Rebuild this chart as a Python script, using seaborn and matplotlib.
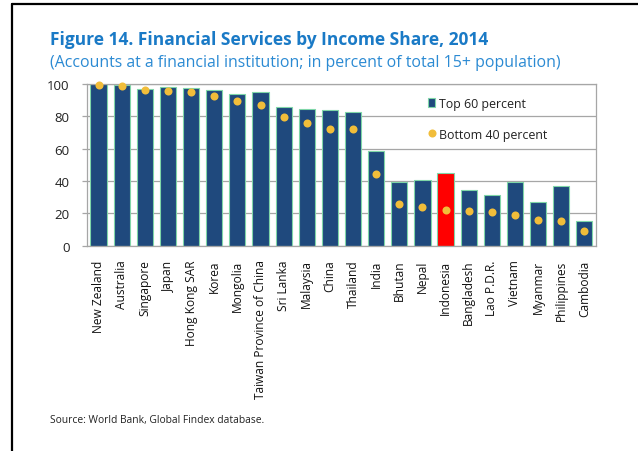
import matplotlib
matplotlib.use("Agg")
import matplotlib.pyplot as plt
from matplotlib.lines import Line2D
from matplotlib.patches import Patch
import seaborn as sns
import pandas as pd

countries = ["New Zealand", "Australia", "Singapore", "Japan", "Hong Kong SAR",
             "Korea", "Mongolia", "Taiwan Province of China", "Sri Lanka",
             "Malaysia", "China", "Thailand", "India", "Bhutan", "Nepal",
             "Indonesia", "Bangladesh", "Lao P.D.R.", "Vietnam", "Myanmar",
             "Philippines", "Cambodia"]
top60 = [99.8, 99.6, 97.0, 98.0, 97.5, 96.0, 94.0, 95.0, 85.5, 84.5, 84.0,
         82.5, 58.6, 39.2, 40.8, 44.9, 34.3, 31.0, 39.4, 27.1, 36.9, 15.2]
bottom40 = [99.4, 98.8, 96.5, 95.7, 94.8, 92.6, 89.2, 87.2, 79.7, 75.6, 72.2,
            72.2, 44.2, 25.5, 23.8, 21.7, 21.3, 20.7, 18.6, 16.0, 14.9, 8.7]
highlight = "Indonesia"

NAVY = "#1f497d"
EDGE = "#7fd6a8"
RED = "#ff0000"
GOLD = "#f1bd3a"
TITLE_BLUE = "#1a7ac6"
SUB_BLUE = "#2b8ad3"
GRID = "#a6a6a6"

df = pd.DataFrame({"country": countries, "top60": top60, "bottom40": bottom40})
palette = {c: (RED if c == highlight else NAVY) for c in countries}

sns.set_theme(style="white")
plt.rcParams["font.family"] = ["Open Sans", "DejaVu Sans"]

fig = plt.figure(figsize=(6.38, 4.52), dpi=100)
ax = fig.add_axes([0.1364, 0.4546, 0.7976, 0.3574])

sns.barplot(data=df, x="country", y="top60", hue="country", palette=palette,
            legend=False, width=0.70, edgecolor=EDGE, linewidth=0.8,
            saturation=1, ax=ax, zorder=2)
sns.stripplot(data=df, x="country", y="bottom40", color=GOLD, jitter=False,
              size=5.8, linewidth=0, ax=ax, zorder=3)
for coll in ax.collections:
    coll.set_clip_on(False)

ax.set_ylim(0, 100)
ax.set_yticks([0, 20, 40, 60, 80, 100])
ax.set_xlim(-0.5, len(countries) - 0.5)
ax.yaxis.grid(True, color=GRID, linewidth=0.9, zorder=0)
ax.set_axisbelow(True)
for s in ax.spines.values():
    s.set_color(GRID)
    s.set_linewidth(0.9)
ax.set_xlabel("")
ax.set_ylabel("")
ax.tick_params(axis="y", which="major", left=True, length=3.5, width=0.9,
               color=GRID, labelsize=9.5, labelcolor="#222222", pad=9)
ax.tick_params(axis="x", bottom=False, labelsize=8.6, labelcolor="#111111",
               rotation=90, pad=4)

handles = [Patch(facecolor=NAVY, edgecolor=EDGE, linewidth=0.8),
           Line2D([], [], marker="o", linestyle="none", markersize=5.8,
                  markerfacecolor=GOLD, markeredgewidth=0)]
ax.legend(handles, ["Top 60 percent", "Bottom 40 percent"], loc="upper left",
          bbox_to_anchor=(0.648, 0.99), frameon=False, fontsize=8.9,
          labelspacing=1.45, handlelength=0.6, handleheight=0.8,
          handletextpad=0.3, labelcolor="#222222")

fig.text(0.078, 0.90, "Figure 14. Financial Services by Income Share, 2014",
         fontsize=12.5, fontweight="bold", color=TITLE_BLUE, va="baseline")
fig.text(0.078, 0.852, "(Accounts at a financial institution; in percent of total 15+ population)",
         fontsize=11.4, color=SUB_BLUE, va="baseline")
fig.text(0.078, 0.064, "Source: World Bank, Global Findex database.",
         fontsize=7.4, color="#222222", va="baseline")

# framing rule along the top and left edge of the page
fig.add_artist(Line2D([12 / 638, 1.0], [1 - 4.5 / 452, 1 - 4.5 / 452],
                      transform=fig.transFigure, color="black", linewidth=1.6))
fig.add_artist(Line2D([12 / 638, 12 / 638], [0, 1 - 4.5 / 452],
                      transform=fig.transFigure, color="black", linewidth=1.6))

fig.savefig("out.png", dpi=100, facecolor="white")
